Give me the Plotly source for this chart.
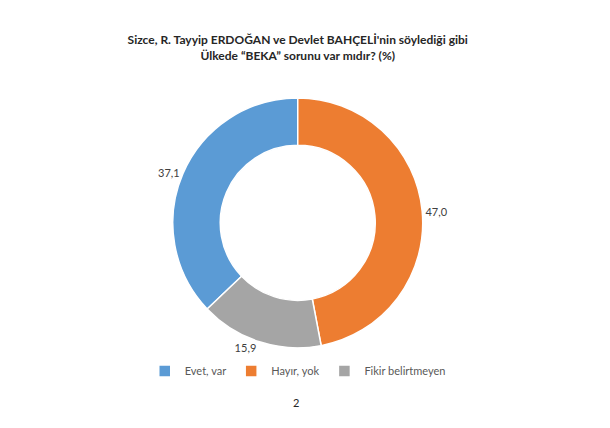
import plotly.graph_objects as go

labels = ["Evet, var", "Hayır, yok", "Fikir belirtmeyen"]
values = [37.1, 47.0, 15.9]
colors = ["#5b9bd5", "#ed7d31", "#a5a5a5"]
text_labels = ["37,1", "47,0", "15,9"]

fig = go.Figure(go.Pie(
    labels=labels,
    values=values,
    text=text_labels,
    textinfo="text",
    textposition="outside",
    textfont=dict(size=11, color="#404040"),
    hole=0.62,
    sort=False,
    direction="clockwise",
    rotation=-values[0] / 100 * 360,
    marker=dict(colors=colors, line=dict(color="white", width=1.5)),
    domain=dict(x=[0.27, 0.68], y=[0.206, 0.79]),
))

fig.update_layout(
    width=610, height=428,
    margin=dict(l=0, r=0, t=0, b=0),
    paper_bgcolor="white",
    font=dict(family="Lato, DejaVu Sans, sans-serif", color="#404040"),
    title=dict(
        text="<b>Sizce, R. Tayyip ERDOĞAN ve Devlet BAHÇELİ'nin söylediği gibi<br>Ülkede “BEKA” sorunu var mıdır? (%)</b>",
        x=0.475, xanchor="center", y=0.915, yanchor="middle",
        font=dict(size=12, color="#262626"),
    ),
    legend=dict(orientation="h", x=0.475, xanchor="center", y=0.152, yanchor="middle",
                font=dict(size=11, color="#595959"), itemwidth=30),
    annotations=[dict(text="2", x=0.472, y=0.058, xref="paper", yref="paper",
                      showarrow=False, font=dict(size=11, color="#262626"))],
)

fig.write_html("out.html")
